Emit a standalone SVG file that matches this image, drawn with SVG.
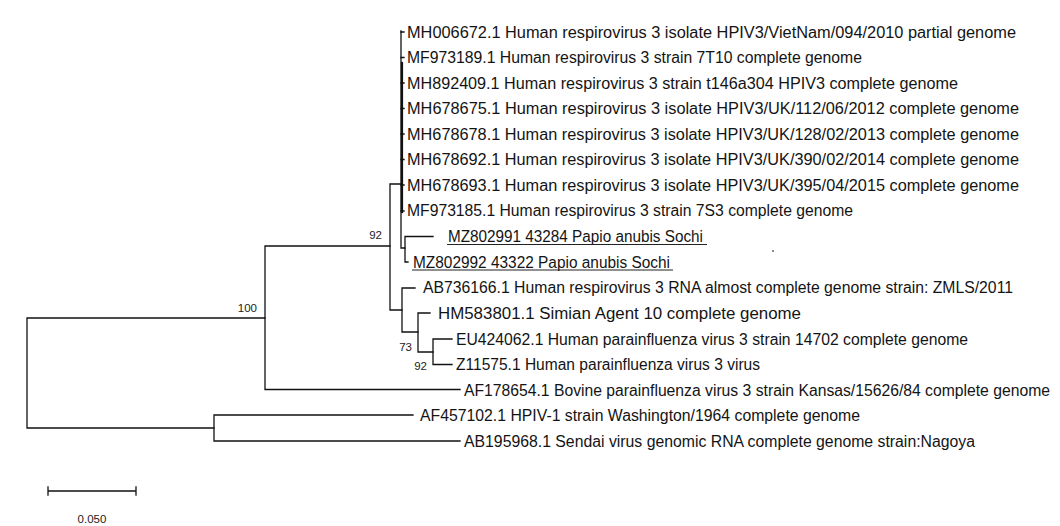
<svg xmlns="http://www.w3.org/2000/svg" width="1060" height="526" viewBox="0 0 1060 526">
<style>
.lbl{font-family:"Liberation Sans",Arial,sans-serif;font-size:15.6px;fill:#141414}
.bs{font-family:"Liberation Sans",Arial,sans-serif;font-size:11.5px;fill:#222;text-anchor:end}
.sc{font-family:"Liberation Sans",Arial,sans-serif;font-size:11.5px;fill:#222;text-anchor:middle}
.br{fill:none;stroke:#111;stroke-width:1.3;stroke-linecap:square}
.ul{stroke:#222;stroke-width:1.1}
</style>
<rect width="1060" height="526" fill="#fff"/>
<g id="connectors" class="br">
<path d="M27,318V428M27,318H265M27,428H214"/>
<path d="M265,246V389.5M265,246H390M265,389.5H460"/>
<path d="M214,415V441M214,415H413M214,441H460"/>
<path d="M390,184V310M390,184H401M390,310H402"/>
<path d="M401,31V248M401,248H405"/>
<path d="M402,63V212" stroke-width="2.2"/>
<path d="M401,32H404M401,57.5H404M401,83H404M401,108.5H404M401,134H404M401,159.5H404M401,185H404M401,211H404"/>
<path d="M405,236.5V262M405,236.5H433M405,262H408"/>
<path d="M402,288V332M402,288H415M402,332H418"/>
<path d="M418,313V352M418,313H430M418,352H433"/>
<path d="M433,339V364.5M433,339H452M433,364.5H452"/>
</g>
<g id="n1"><text class="lbl" x="407" y="37.5" textLength="609" lengthAdjust="spacingAndGlyphs">MH006672.1 Human respirovirus 3 isolate HPIV3/VietNam/094/2010 partial genome</text></g>
<g id="n2"><text class="lbl" x="407" y="63" textLength="455" lengthAdjust="spacingAndGlyphs">MF973189.1 Human respirovirus 3 strain 7T10 complete genome</text></g>
<g id="n3"><text class="lbl" x="407" y="88.5" textLength="551" lengthAdjust="spacingAndGlyphs">MH892409.1 Human respirovirus 3 strain t146a304 HPIV3 complete genome</text></g>
<g id="n4"><text class="lbl" x="407" y="114" textLength="612" lengthAdjust="spacingAndGlyphs">MH678675.1 Human respirovirus 3 isolate HPIV3/UK/112/06/2012 complete genome</text></g>
<g id="n5"><text class="lbl" x="407" y="139.5" textLength="612" lengthAdjust="spacingAndGlyphs">MH678678.1 Human respirovirus 3 isolate HPIV3/UK/128/02/2013 complete genome</text></g>
<g id="n6"><text class="lbl" x="407" y="165" textLength="612" lengthAdjust="spacingAndGlyphs">MH678692.1 Human respirovirus 3 isolate HPIV3/UK/390/02/2014 complete genome</text></g>
<g id="n7"><text class="lbl" x="407" y="190.5" textLength="612" lengthAdjust="spacingAndGlyphs">MH678693.1 Human respirovirus 3 isolate HPIV3/UK/395/04/2015 complete genome</text></g>
<g id="n8"><text class="lbl" x="407" y="216" textLength="446" lengthAdjust="spacingAndGlyphs">MF973185.1 Human respirovirus 3 strain 7S3 complete genome</text></g>
<g id="n9"><text class="lbl" x="448" y="242" textLength="255" lengthAdjust="spacingAndGlyphs">MZ802991 43284 Papio anubis Sochi</text><line class="ul" x1="447" y1="244.5" x2="707" y2="244.5"/></g>
<g id="n10"><text class="lbl" x="413" y="267.5" textLength="257" lengthAdjust="spacingAndGlyphs">MZ802992 43322 Papio anubis Sochi</text><line class="ul" x1="412" y1="270" x2="673" y2="270"/></g>
<g id="n11"><text class="lbl" x="423" y="293" textLength="590" lengthAdjust="spacingAndGlyphs">AB736166.1 Human respirovirus 3 RNA almost complete genome strain: ZMLS/2011</text></g>
<g id="n12"><text class="lbl" x="438" y="318.5" textLength="363" lengthAdjust="spacingAndGlyphs">HM583801.1 Simian Agent 10 complete genome</text></g>
<g id="n13"><text class="lbl" x="456" y="344.5" textLength="512" lengthAdjust="spacingAndGlyphs">EU424062.1 Human parainfluenza virus 3 strain 14702 complete genome</text></g>
<g id="n14"><text class="lbl" x="456" y="370" textLength="304" lengthAdjust="spacingAndGlyphs">Z11575.1 Human parainfluenza virus 3 virus</text></g>
<g id="n15"><text class="lbl" x="464" y="395.5" textLength="586" lengthAdjust="spacingAndGlyphs">AF178654.1 Bovine parainfluenza virus 3 strain Kansas/15626/84 complete genome</text></g>
<g id="n16"><text class="lbl" x="420" y="421" textLength="440" lengthAdjust="spacingAndGlyphs">AF457102.1 HPIV-1 strain Washington/1964 complete genome</text></g>
<g id="n17"><text class="lbl" x="464" y="446.5" textLength="511" lengthAdjust="spacingAndGlyphs">AB195968.1 Sendai virus genomic RNA complete genome strain:Nagoya</text></g>
<g id="bootstrap">
<text class="bs" x="257" y="312">100</text>
<text class="bs" x="382" y="239">92</text>
<text class="bs" x="412" y="351">73</text>
<text class="bs" x="427" y="370">92</text>
</g>
<g id="scale">
<path class="br" d="M48,491H136M48,487V495M136,487V495"/>
<text class="sc" x="92" y="523">0.050</text>
</g>
<circle cx="773" cy="251" r="0.9" fill="#555"/>
</svg>
